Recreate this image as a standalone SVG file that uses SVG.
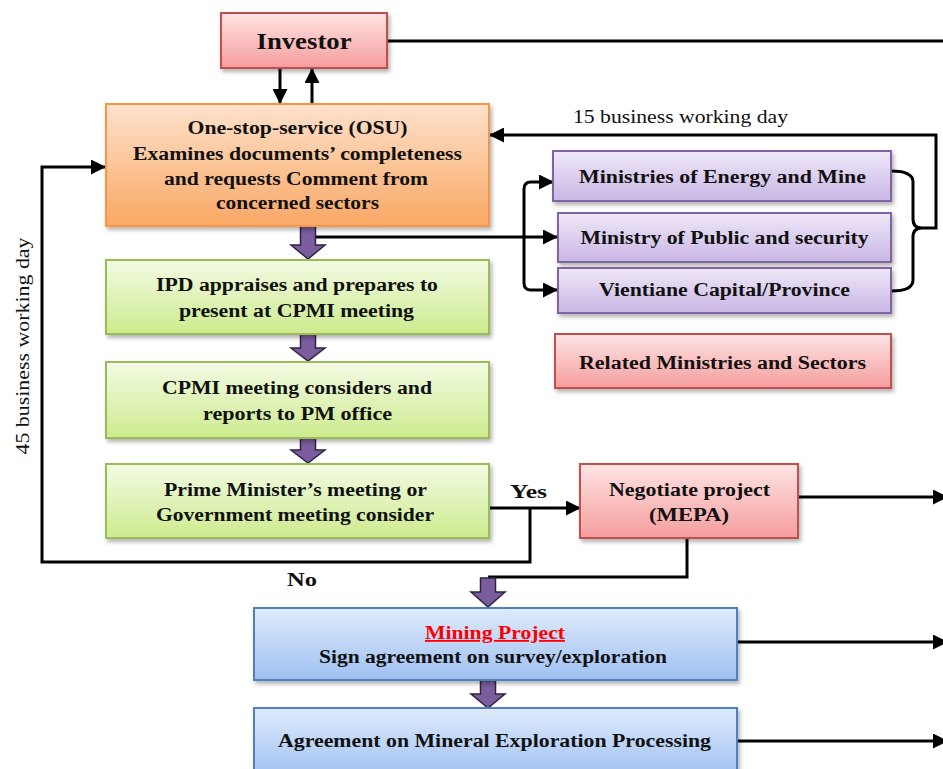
<svg xmlns="http://www.w3.org/2000/svg" width="943" height="769" viewBox="0 0 943 769">
<defs>
<linearGradient id="gRed" x1="0" y1="0" x2="0" y2="1"><stop offset="0" stop-color="#ffe4e4"/><stop offset="1" stop-color="#f59d9d"/></linearGradient>
<linearGradient id="gOrange" x1="0" y1="0" x2="0" y2="1"><stop offset="0" stop-color="#fee2cc"/><stop offset="1" stop-color="#f9a764"/></linearGradient>
<linearGradient id="gGreen" x1="0" y1="0" x2="0" y2="1"><stop offset="0" stop-color="#f3fbe4"/><stop offset="1" stop-color="#cdeb8e"/></linearGradient>
<linearGradient id="gPurple" x1="0" y1="0" x2="0" y2="1"><stop offset="0" stop-color="#efe8f8"/><stop offset="1" stop-color="#c9b6e5"/></linearGradient>
<linearGradient id="gBlue" x1="0" y1="0" x2="0" y2="1"><stop offset="0" stop-color="#dfebfc"/><stop offset="1" stop-color="#9ec0f2"/></linearGradient>
<filter id="sh" x="-5%" y="-10%" width="115%" height="130%"><feDropShadow dx="2" dy="3" stdDeviation="2" flood-color="#000" flood-opacity="0.3"/></filter>
<marker id="ah" markerUnits="userSpaceOnUse" markerWidth="15" markerHeight="15" refX="14" refY="7.5" orient="auto"><path d="M0,0 L15,7.5 L0,15 z" fill="#000"/></marker>
</defs>
<style>
.box{stroke-width:2;filter:url(#sh)}
.red{fill:url(#gRed);stroke:#c0504d}
.orange{fill:url(#gOrange);stroke:#f79646}
.green{fill:url(#gGreen);stroke:#9bbb59}
.purple{fill:url(#gPurple);stroke:#8064a2}
.blue{fill:url(#gBlue);stroke:#4f81bd}
.t{font-family:"Liberation Serif","Times New Roman",serif;font-weight:bold;font-size:18px;fill:#111;text-anchor:middle}
.n{font-family:"Liberation Serif","Times New Roman",serif;font-size:18px;fill:#111}
.ln{fill:none;stroke:#000;stroke-width:3}
.blk{fill:#7b5c9e;stroke:#2e2440;stroke-width:1.5}
</style>
<rect width="943" height="769" fill="#fff"/>
<g id="connectors">
<path class="ln" d="M387,41 L943,41"/>
<path class="ln" d="M280,68 L280,103" marker-end="url(#ah)"/>
<path class="ln" d="M312,104 L312,69" marker-end="url(#ah)"/>
<path class="ln" d="M315,237 L557,237" marker-end="url(#ah)"/>
<path class="ln" d="M524,237 L524,189 Q524,182 531,182 L553,182" marker-end="url(#ah)"/>
<path class="ln" d="M524,237 L524,283 Q524,290 531,290 L557,290" marker-end="url(#ah)"/>
<path class="ln" d="M891,171 Q913,171 913,182 L913,219 Q913,228 922,228 Q913,228 913,237 L913,280 Q913,291 891,291"/>
<path class="ln" d="M922,228 L936,228 L936,135 L490,135" marker-end="url(#ah)"/>
<path class="ln" d="M489,508 L580,508" marker-end="url(#ah)"/>
<path class="ln" d="M530,508 L530,562 L42,562 L42,167 L105,167" marker-end="url(#ah)"/>
<path class="ln" d="M687,538 L687,577 L488,577"/>
<path class="ln" d="M798,497 L947,497" marker-end="url(#ah)"/>
<path class="ln" d="M737,642 L947,642" marker-end="url(#ah)"/>
<path class="ln" d="M737,741 L947,741" marker-end="url(#ah)"/>
<path class="blk" d="M300.5,226 L315.5,226 L315.5,245 L325,245 L308,259 L291,245 L300.5,245 z"/>
<path class="blk" d="M300.5,334 L315.5,334 L315.5,348 L325,348 L308,361 L291,348 L300.5,348 z"/>
<path class="blk" d="M300.5,438 L315.5,438 L315.5,450 L325,450 L308,463 L291,450 L300.5,450 z"/>
<path class="blk" d="M480.5,578 L495.5,578 L495.5,592 L505,592 L488,607 L471,592 L480.5,592 z"/>
<path class="blk" d="M480.5,680 L495.5,680 L495.5,694 L505,694 L488,708 L471,694 L480.5,694 z"/>
<text class="n" x="573" y="123" textLength="215" lengthAdjust="spacingAndGlyphs">15 business working day</text>
<text class="n" transform="translate(29,346) rotate(-90)" text-anchor="middle" textLength="217" lengthAdjust="spacingAndGlyphs">45 business working day</text>
<text class="t" x="528.5" y="498" textLength="37" lengthAdjust="spacingAndGlyphs">Yes</text>
<text class="t" x="302" y="586" textLength="30" lengthAdjust="spacingAndGlyphs">No</text>
</g>
<g id="investor">
<rect class="box red" x="221" y="13" width="166" height="55"/>
<text class="t" x="304" y="49" style="font-size:24px" textLength="95" lengthAdjust="spacingAndGlyphs">Investor</text>
</g>
<g id="osu">
<rect class="box orange" x="106" y="104" width="383" height="122"/>
<text class="t" x="297.5" y="134" textLength="220" lengthAdjust="spacingAndGlyphs">One-stop-service (OSU)</text>
<text class="t" x="297.5" y="160" textLength="329" lengthAdjust="spacingAndGlyphs">Examines documents’ completeness</text>
<text class="t" x="296" y="185" textLength="264" lengthAdjust="spacingAndGlyphs">and requests Comment from</text>
<text class="t" x="297.5" y="209" textLength="163" lengthAdjust="spacingAndGlyphs">concerned sectors</text>
</g>
<g id="ipd">
<rect class="box green" x="106" y="260" width="383" height="74"/>
<text class="t" x="297" y="291" textLength="282" lengthAdjust="spacingAndGlyphs">IPD appraises and prepares to</text>
<text class="t" x="296.5" y="317" textLength="235" lengthAdjust="spacingAndGlyphs">present at CPMI meeting</text>
</g>
<g id="cpmi">
<rect class="box green" x="106" y="362" width="383" height="76"/>
<text class="t" x="297" y="394" textLength="270" lengthAdjust="spacingAndGlyphs">CPMI meeting considers and</text>
<text class="t" x="297.5" y="420" textLength="189" lengthAdjust="spacingAndGlyphs">reports to PM office</text>
</g>
<g id="pm">
<rect class="box green" x="106" y="464" width="383" height="74"/>
<text class="t" x="295.5" y="496" textLength="263" lengthAdjust="spacingAndGlyphs">Prime Minister’s meeting or</text>
<text class="t" x="295" y="521" textLength="278" lengthAdjust="spacingAndGlyphs">Government meeting consider</text>
</g>
<g id="negotiate">
<rect class="box red" x="580" y="464" width="218" height="74"/>
<text class="t" x="689.5" y="496" textLength="161" lengthAdjust="spacingAndGlyphs">Negotiate project</text>
<text class="t" x="689" y="521" textLength="80" lengthAdjust="spacingAndGlyphs">(MEPA)</text>
</g>
<g id="energy">
<rect class="box purple" x="553" y="151" width="338" height="50"/>
<text class="t" x="722.5" y="183" textLength="287" lengthAdjust="spacingAndGlyphs">Ministries of Energy and Mine</text>
</g>
<g id="public">
<rect class="box purple" x="558" y="213" width="333" height="49"/>
<text class="t" x="724.5" y="244" textLength="288" lengthAdjust="spacingAndGlyphs">Ministry of Public and security</text>
</g>
<g id="vientiane">
<rect class="box purple" x="558" y="268" width="333" height="45"/>
<text class="t" x="724.5" y="296" textLength="251" lengthAdjust="spacingAndGlyphs">Vientiane Capital/Province</text>
</g>
<g id="related">
<rect class="box red" x="555" y="334" width="336" height="54"/>
<text class="t" x="722.5" y="369" textLength="287" lengthAdjust="spacingAndGlyphs">Related Ministries and Sectors</text>
</g>
<g id="mining">
<rect class="box blue" x="254" y="608" width="483" height="72"/>
<text class="t" x="495" y="639" style="fill:#ff0000;text-decoration:underline" textLength="140" lengthAdjust="spacingAndGlyphs">Mining Project</text>
<text class="t" x="493" y="663" textLength="348" lengthAdjust="spacingAndGlyphs">Sign agreement on survey/exploration</text>
</g>
<g id="agreement">
<rect class="box blue" x="254" y="708" width="483" height="70"/>
<text class="t" x="494.5" y="747" textLength="433" lengthAdjust="spacingAndGlyphs">Agreement on Mineral Exploration Processing</text>
</g>
</svg>
